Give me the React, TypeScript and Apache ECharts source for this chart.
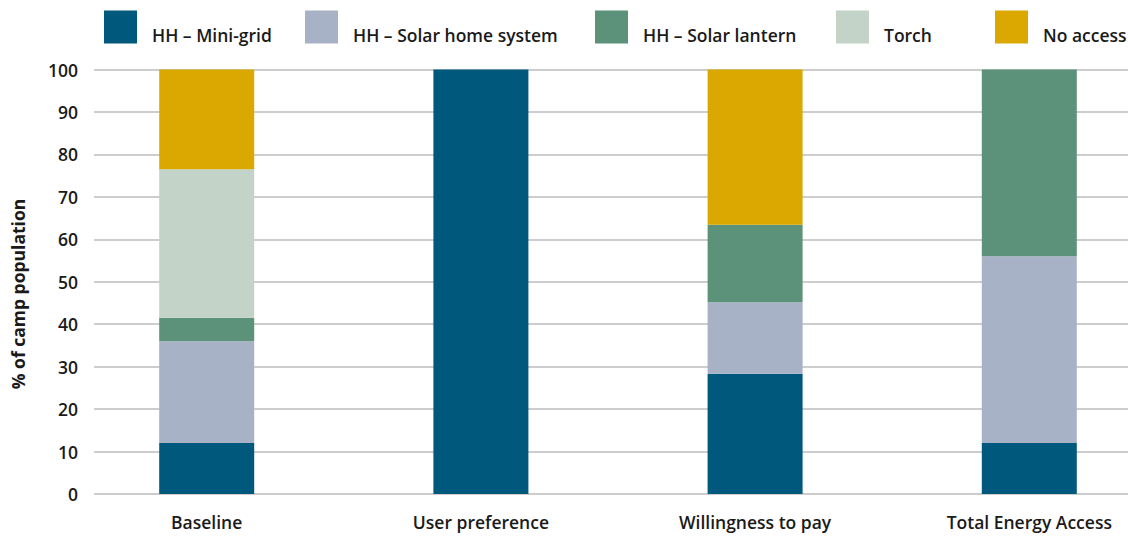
import React, { useEffect, useRef } from "react";
import * as echarts from "echarts";

const categories = ["Baseline", "User preference", "Willingness to pay", "Total Energy Access"];
const seriesNames = ["HH – Mini-grid", "HH – Solar home system", "HH – Solar lantern", "Torch", "No access"];
const miniGrid = [12, 100, 28.3, 12];
const solarHome = [24, 0, 16.9, 44];
const solarLantern = [5.5, 0, 18.2, 44];
const torch = [35, 0, 0, 0];
const noAccess = [23.5, 0, 36.6, 0];
const yTicks = [0, 10, 20, 30, 40, 50, 60, 70, 80, 90, 100];
const colors = ["#00587C", "#A7B2C6", "#5B9279", "#C4D3C7", "#DAA800"];
const legendLefts = [104, 305, 595, 836, 995];

export default function App() {
  const ref = useRef<HTMLDivElement>(null);
  useEffect(() => {
    if (!ref.current) return;
    const chart = echarts.init(ref.current, undefined, { renderer: "svg" });
    const values = [miniGrid, solarHome, solarLantern, torch, noAccess];
    const font = "'Open Sans', sans-serif";
    const fs = 17.5;
    chart.setOption({
      animation: false,
      textStyle: { fontFamily: font },
      legend: seriesNames.map((n, i) => ({
        data: [n],
        left: legendLefts[i],
        top: 10,
        padding: 0,
        itemWidth: 33,
        itemHeight: 33,
        icon: "rect",
        selectedMode: false,
        formatter: (name: string) => "{a|" + name + "}",
        textStyle: {
          fontFamily: font,
          fontSize: fs,
          fontWeight: 600,
          color: "#1a1a1a",
          rich: {
            a: {
              fontFamily: font,
              fontSize: fs,
              fontWeight: 600,
              color: "#1a1a1a",
              lineHeight: 18,
              padding: [16, 0, 0, 10],
            },
          },
        },
      })),
      grid: [
        { left: 69.6, width: 1096.8, top: 69.5, height: 424.5, outerBoundsMode: "none", containLabel: false },
        { left: 94, width: 1034, top: 69.5, height: 424.5, outerBoundsMode: "none", containLabel: false },
      ],
      xAxis: [
        {
          type: "category",
          gridIndex: 0,
          data: categories,
          axisLine: { show: false },
          axisTick: { show: false },
          axisLabel: { margin: 19, fontSize: 17.5, fontWeight: 600, color: "#1a1a1a", fontFamily: font },
        },
        { type: "value", gridIndex: 1, show: false, min: 0, max: 1 },
      ],
      yAxis: [
        { type: "value", gridIndex: 0, min: 0, max: 100, show: false, splitLine: { show: false } },
        {
          type: "value",
          gridIndex: 1,
          min: 0,
          max: 100,
          interval: 10,
          axisLine: { show: false },
          axisTick: { show: false },
          axisLabel: {
            margin: 16,
            fontSize: fs,
            fontWeight: 600,
            color: "#1a1a1a",
            fontFamily: font,
            customValues: yTicks,
          },
          splitLine: { show: true, lineStyle: { color: "#bcbcbc", width: 1.5 } },
        },
      ],
      graphic: [
        {
          type: "text",
          x: 18,
          y: 294,
          rotation: Math.PI / 2,
          style: {
            text: "% of camp population",
            fontFamily: font,
            fontSize: 17.5,
            fontWeight: 700,
            fill: "#1a1a1a",
            textAlign: "center",
            textVerticalAlign: "middle",
          },
        },
      ],
      series: seriesNames.map((n, i) => ({
        name: n,
        type: "bar",
        stack: "total",
        xAxisIndex: 0,
        yAxisIndex: 0,
        barWidth: 95,
        itemStyle: { color: colors[i] },
        data: values[i],
        z: 3,
      })),
    });
    return () => chart.dispose();
  }, []);
  return <div ref={ref} style={{ width: 1128, height: 536, position: "absolute", left: 0, top: 0 }} />;
}
